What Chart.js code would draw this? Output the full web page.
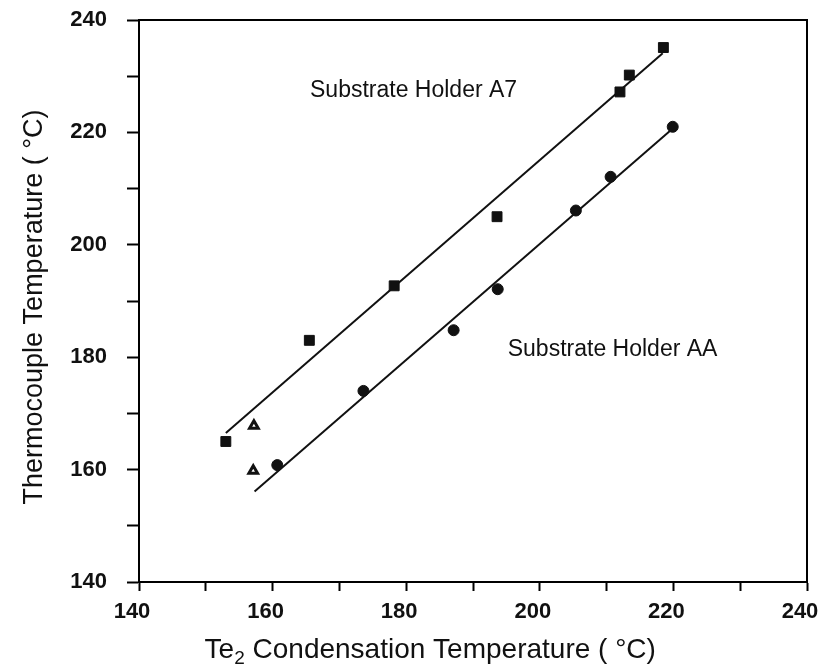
<!DOCTYPE html>
<html lang="en">
<head>
<meta charset="utf-8">
<title>Thermocouple vs. Te2 Condensation Temperature</title>
<script src="https://cdn.jsdelivr.net/npm/chart.js@4.4.1/dist/chart.umd.min.js"></script>
<style>
  html, body { margin: 0; padding: 0; background: #fff; }
  #wrap { position: relative; width: 823px; height: 669px; }
</style>
</head>
<body>
<div id="wrap"><canvas id="tempChart"></canvas></div>
<script>
// Portamuestras A7 (cuadrados)
const holderA7X = [153, 165.5, 178.2, 193.6, 212, 213.4, 218.5];
const holderA7Y = [165, 183, 192.7, 205, 227.2, 230.2, 235.1];
// Portamuestras AA (círculos)
const holderAAX = [160.7, 173.6, 187.1, 193.7, 205.4, 210.6, 219.9];
const holderAAY = [160.8, 174, 184.8, 192.1, 206.1, 212.1, 221];
// Puntos sueltos (triángulos)
const extraX = [157.2, 157.1];
const extraY = [167.8, 159.8];
// Rectas de ajuste (extremos)
const fitA7X = [153, 218.4];
const fitA7Y = [166.5, 234.1];
const fitAAX = [157.3, 219.6];
const fitAAY = [156.1, 220.4];

const axisMin = 140;
const axisMax = 240;
const minorStep = 10;
const labelStep = 20;

const labelA7 = 'Substrate Holder A7';
const labelAA = 'Substrate Holder AA';
const xTitle = ['Te', '2', ' Condensation Temperature ( °C)'];
const yTitle = 'Thermocouple Temperature ( °C)';

const FONT = '"Liberation Sans", Arial, Helvetica, sans-serif';

function zip(xs, ys) {
    return xs.map((x, i) => ({ x, y: ys[i] }));
}

// Marco, rótulos y títulos de ejes
const figureTextPlugin = {
    id: 'figureText',
    afterDraw(chart) {
        const { ctx, chartArea: area, scales } = chart;
        ctx.save();
        ctx.strokeStyle = '#000';
        ctx.lineWidth = 2;
        ctx.strokeRect(area.left, area.top, area.right - area.left, area.bottom - area.top);

        ctx.fillStyle = '#111';
        ctx.textBaseline = 'alphabetic';
        ctx.textAlign = 'left';
        ctx.font = '23px ' + FONT;
        ctx.fillText(labelA7, scales.x.getPixelForValue(165.6), scales.y.getPixelForValue(226.3));
        ctx.fillText(labelAA, scales.x.getPixelForValue(195.2), scales.y.getPixelForValue(180.2));

        // título X con subíndice
        const big = '28px ' + FONT;
        const small = '19px ' + FONT;
        ctx.font = big;
        const w0 = ctx.measureText(xTitle[0]).width;
        const w2 = ctx.measureText(xTitle[2]).width;
        ctx.font = small;
        const w1 = ctx.measureText(xTitle[1]).width;
        const total = w0 + w1 + w2;
        let x = area.left + (area.right - area.left) * 0.436 - total / 2;
        const base = area.bottom + 76;
        ctx.font = big;
        ctx.fillText(xTitle[0], x, base);
        x += w0;
        ctx.font = small;
        ctx.fillText(xTitle[1], x, base + 6);
        x += w1;
        ctx.font = big;
        ctx.fillText(xTitle[2], x, base);

        // título Y
        ctx.translate(35, (area.top + area.bottom) / 2 + 6);
        ctx.rotate(-Math.PI / 2);
        ctx.textAlign = 'center';
        ctx.textBaseline = 'middle';
        ctx.font = '27px ' + FONT;
        ctx.fillText(yTitle, 0, 0);
        ctx.restore();
    }
};

const tickLabel = (v) => (v % labelStep === 0 ? v : '');

const chart = new Chart(document.getElementById('tempChart'), {
    type: 'scatter',
    data: {
        datasets: [
            {
                label: labelA7,
                data: zip(holderA7X, holderA7Y),
                pointStyle: 'rect',
                pointRadius: 7,
                backgroundColor: '#111',
                borderColor: '#111',
                borderWidth: 1
            },
            {
                label: labelAA,
                data: zip(holderAAX, holderAAY),
                pointStyle: 'circle',
                pointRadius: 5.5,
                backgroundColor: '#111',
                borderColor: '#111',
                borderWidth: 1
            },
            {
                label: 'other',
                data: zip(extraX, extraY),
                pointStyle: 'triangle',
                pointRadius: 5,
                backgroundColor: '#fff',
                borderColor: '#111',
                borderWidth: 3
            },
            {
                label: 'fit A7',
                data: zip(fitA7X, fitA7Y),
                showLine: true,
                pointRadius: 0,
                borderColor: '#111',
                borderWidth: 2
            },
            {
                label: 'fit AA',
                data: zip(fitAAX, fitAAY),
                showLine: true,
                pointRadius: 0,
                borderColor: '#111',
                borderWidth: 2
            }
        ]
    },
    options: {
        responsive: true,
        maintainAspectRatio: false,
        animation: false,
        layout: { padding: { top: 20, right: 16, bottom: 0, left: 0 } },
        plugins: {
            legend: { display: false },
            tooltip: { enabled: false }
        },
        scales: {
            x: {
                type: 'linear',
                min: axisMin,
                max: axisMax,
                border: { display: true, color: '#000', width: 2 },
                grid: { drawOnChartArea: false, color: '#000', tickLength: 9, tickWidth: 2 },
                ticks: {
                    stepSize: minorStep,
                    autoSkip: false,
                    maxRotation: 0,
                    padding: 8,
                    labelOffset: -7,
                    color: '#111',
                    font: { family: FONT, size: 22, weight: 'bold' },
                    callback: tickLabel
                },
                afterFit(scale) {
                    scale.height = 87;
                    scale.paddingLeft = 0;
                    scale.paddingRight = 0;
                }
            },
            y: {
                type: 'linear',
                min: axisMin,
                max: axisMax,
                border: { display: true, color: '#000', width: 2 },
                grid: { drawOnChartArea: false, color: '#000', tickLength: 12, tickWidth: 2 },
                ticks: {
                    stepSize: minorStep,
                    autoSkip: false,
                    padding: 20,
                    color: '#111',
                    font: { family: FONT, size: 22, weight: 'bold' },
                    callback: tickLabel
                },
                afterFit(scale) {
                    scale.width = 139;
                    scale.paddingTop = 0;
                    scale.paddingBottom = 0;
                }
            }
        }
    },
    plugins: [figureTextPlugin]
});
</script>
</body>
</html>
